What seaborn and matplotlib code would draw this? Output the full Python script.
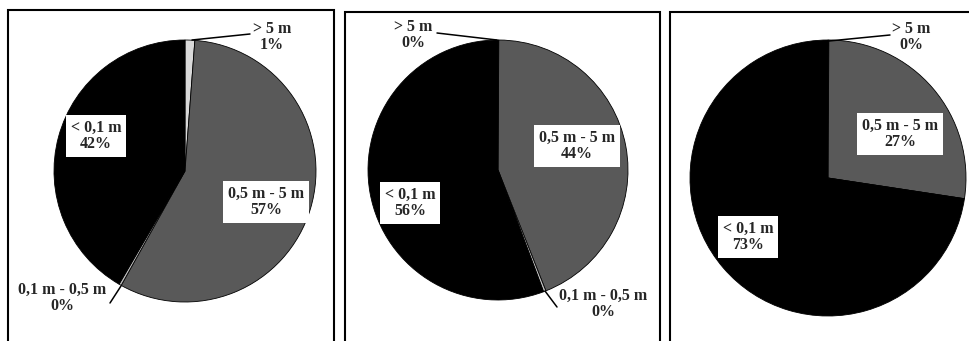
import matplotlib
matplotlib.use("Agg")
import matplotlib.pyplot as plt
from matplotlib.patches import Rectangle
import seaborn as sns

sns.set_style("white")
plt.rcParams["font.family"] = ["Liberation Serif", "DejaVu Serif"]

# Size classes, clockwise from 12 o'clock
categories = ["> 5 m", "0,5 m - 5 m", "0,1 m - 0,5 m", "< 0,1 m"]
panel1_values = [1.2, 56.9, 0.3, 41.6]
panel2_values = [0.1, 43.9, 0.3, 55.7]
panel3_values = [0.1, 27.3, 0.0, 72.6]
slice_colors = ["#d9d9d9", "#595959", "#bfbfbf", "#000000"]

W, H = 969, 341
fig = plt.figure(figsize=(W / 100, H / 100), dpi=100)
ax = fig.add_axes([0, 0, 1, 1])
ax.set_xlim(0, W)
ax.set_ylim(0, H)
ax.set_aspect("equal")
ax.axis("off")


def y(v):
    # pixel rows are counted from the top
    return H - v


# panel frames (open at the bottom edge of the figure)
frames = [(8, 10, 334), (345, 12, 660), (670, 12, 975)]
for x0, y0, x1 in frames:
    ax.add_patch(Rectangle((x0, -10), x1 - x0, y(y0) + 10, fill=False,
                           edgecolor="black", linewidth=1.5, zorder=1))

panels = [
    dict(values=panel1_values, center=(185, 171), radius=131,
         labels={
             0: dict(pos=(272, 37), box=False, line=[(250, 34), (192, 40)]),
             1: dict(pos=(266, 202), box=True),
             2: dict(pos=(62, 298), box=False, line=[(110, 303), (121, 286)]),
             3: dict(pos=(96, 136), box=True),
         }),
    dict(values=panel2_values, center=(498, 170), radius=130,
         labels={
             0: dict(pos=(413, 35), box=False, line=[(437, 33), (497, 40)]),
             1: dict(pos=(577, 146), box=True),
             2: dict(pos=(603, 304), box=False, line=[(557, 307), (545, 291)]),
             3: dict(pos=(410, 203), box=True),
         }),
    dict(values=panel3_values, center=(828, 178), radius=138,
         labels={
             0: dict(pos=(911, 37), box=False, line=[(890, 35), (829, 41)]),
             1: dict(pos=(900, 134), box=True),
             3: dict(pos=(748, 237), box=True),
         }),
]

for p in panels:
    cx, cy = p["center"]
    ax.pie(p["values"], colors=slice_colors, startangle=90, counterclock=False,
           center=(cx, y(cy)), radius=p["radius"], normalize=True,
           wedgeprops=dict(edgecolor="black", linewidth=0.6), frame=True)
    for idx, spec in p["labels"].items():
        text = f"{categories[idx]}\n{round(p['values'][idx])}%"
        tx, ty = spec["pos"]
        bbox = dict(facecolor="white", edgecolor="none", pad=3.5) if spec["box"] else None
        ax.text(tx, y(ty), text, ha="center", va="center", fontsize=11.5,
                fontweight="bold", linespacing=1.05, bbox=bbox, zorder=5)
        if "line" in spec:
            (x1, y1), (x2, y2) = spec["line"]
            ax.plot([x1, x2], [y(y1), y(y2)], color="black", linewidth=1.1, zorder=4)

ax.set_xlim(0, W)
ax.set_ylim(0, H)
ax.axis("off")
fig.savefig("out.png", dpi=100)
